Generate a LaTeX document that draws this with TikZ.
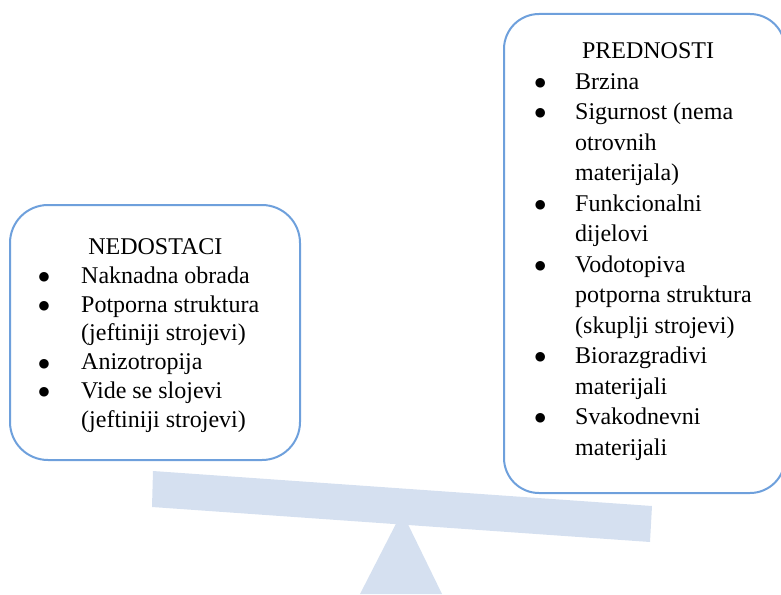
\documentclass[tikz,border=0pt]{standalone}
\usepackage{fontspec}
\setmainfont{Liberation Serif}
\newfontfamily\symfont{DejaVu Sans}
\newcommand\bul{\makebox[0pt]{\raisebox{2.6pt}{\fontsize{12.5}{12.5}\selectfont\symfont ●}}}
\definecolor{boxblue}{RGB}{110,160,220}
\definecolor{scalefill}{RGB}{213,224,240}
\begin{document}
\begin{tikzpicture}[x=1pt,y=-1pt,
  panel/.style={draw=boxblue,line width=2pt,fill=white,rounded corners=38pt,rectangle,inner sep=0pt},
  title/.style={anchor=base,inner sep=0pt,font=\fontsize{24}{28}\selectfont},
  list/.style={anchor=base west,inner sep=0pt}]
\useasboundingbox (0,0) rectangle (781,594);
\fill[scalefill] (360,594) -- (402,512) -- (442,594) -- cycle;
\fill[scalefill] (153,471) -- (652,506) -- (650,542) -- (152,507) -- cycle;
\node[panel,minimum width=290pt,minimum height=255pt] (left) at (155,332.5) {};
\node[panel,minimum width=281pt,minimum height=479pt,rounded corners=35pt] (right) at (644.5,253.5) {};
\node[title] (ltitle) at (155.3,254) {NEDOSTACI};
\node[list] (llist) at (44,283.3) {\fontsize{24}{28.8}\selectfont
\begin{tabular}[t]{@{}c@{\hspace{37pt}}l@{}}
\bul & Naknadna obrada\\
\bul & Potporna struktura\\
 & (jeftiniji strojevi)\\
\bul & Anizotropija\\
\bul & Vide se slojevi\\
 & (jeftiniji strojevi)
\end{tabular}};
\node[title] (rtitle) at (648,59) {PREDNOSTI};
\node[list] (rlist) at (540,89) {\fontsize{24}{30.5}\selectfont
\begin{tabular}[t]{@{}c@{\hspace{35pt}}l@{}}
\bul & Brzina\\
\bul & Sigurnost (nema\\
 & otrovnih\\
 & materijala)\\
\bul & Funkcionalni\\
 & dijelovi\\
\bul & Vodotopiva\\
 & potporna struktura\\
 & (skuplji strojevi)\\
\bul & Biorazgradivi\\
 & materijali\\
\bul & Svakodnevni\\
 & materijali
\end{tabular}};
\end{tikzpicture}
\end{document}
